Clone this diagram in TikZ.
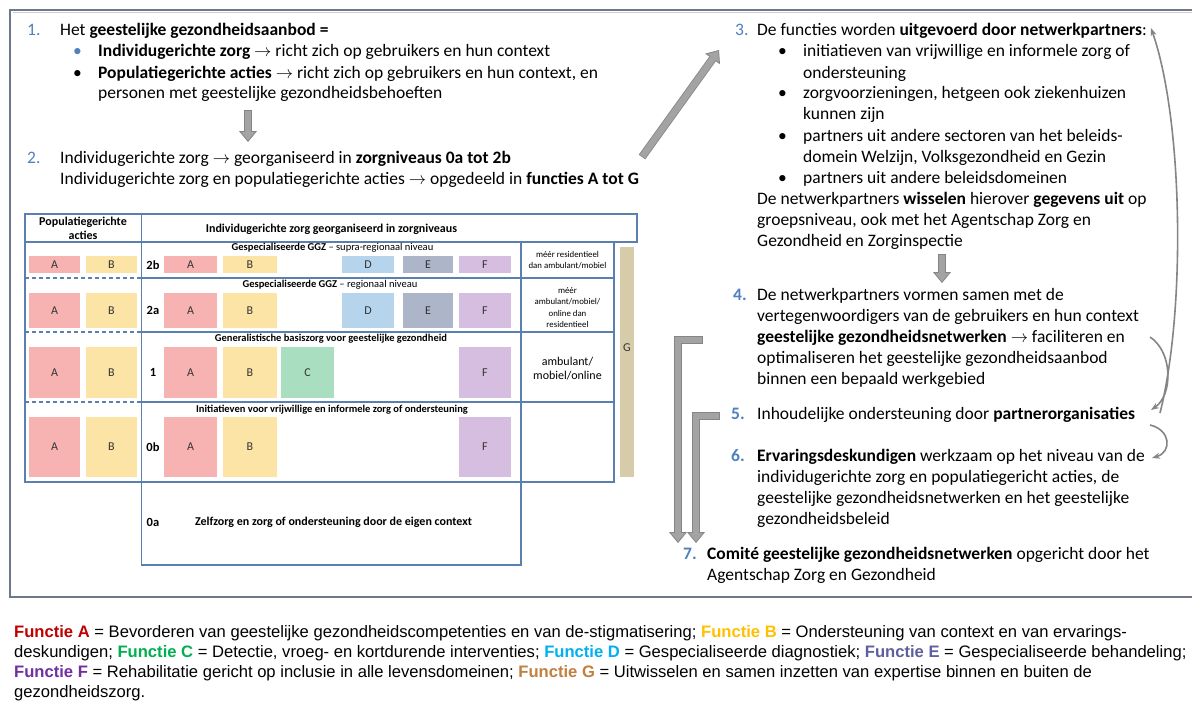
\documentclass[tikz,border=0pt]{standalone}
\usepackage{fontspec}
\setmainfont{Carlito}
\newfontfamily\legendfont{Liberation Sans}
\usetikzlibrary{arrows.meta}
\definecolor{numblue}{HTML}{4F81BD}
\definecolor{tabline}{HTML}{5B7FAF}
\definecolor{fA}{HTML}{F7B2B2}
\definecolor{fB}{HTML}{FCE3A6}
\definecolor{fC}{HTML}{A9DFC0}
\definecolor{fD}{HTML}{B6D5EC}
\definecolor{fE}{HTML}{ADB5C9}
\definecolor{fF}{HTML}{D5BEE0}
\definecolor{fG}{HTML}{D7CCA9}
\definecolor{arrowfill}{HTML}{A3A3A3}
\definecolor{arrowedge}{HTML}{858585}
\definecolor{framecol}{HTML}{6E7886}
\definecolor{legA}{HTML}{C00000}
\definecolor{legB}{HTML}{FFC000}
\definecolor{legC}{HTML}{00B050}
\definecolor{legD}{HTML}{00B0F0}
\definecolor{legE}{HTML}{5F5F9F}
\definecolor{legF}{HTML}{7030A0}
\definecolor{legG}{HTML}{C0803E}

\tikzset{
  body/.style={anchor=base west, inner sep=0pt, font=\fontsize{17.5}{21}\selectfont},
  num/.style={body, text=numblue},
  bnum/.style={body, text=numblue, font=\fontsize{17.5}{21}\selectfont\bfseries},
  legend/.style={anchor=base west, inner sep=0pt, font=\legendfont\fontsize{16.6}{20}\selectfont},
  cellbox/.style={inner sep=0pt, draw=none, text=black!80, font=\fontsize{12}{14}\selectfont},
  sub/.style={inner sep=0pt, font=\fontsize{10.5}{12}\selectfont},
  lvl/.style={inner sep=0pt, font=\fontsize{12.5}{14}\selectfont\bfseries},
  desc/.style={inner sep=0pt, align=center, font=\fontsize{8.8}{11.3}\selectfont},
  tab/.style={draw=tabline, line width=1.1pt},
  fatarrow/.style={draw=arrowedge, line width=8pt,
    -{Triangle[width=18pt,length=11pt,line width=0.8pt,fill=arrowfill]},
    postaction={draw=arrowfill, line width=6.4pt, -, shorten >=10pt, shorten <=0.8pt}},
  thinarrow/.style={draw=arrowedge, line width=1.6pt, -{Stealth[length=8pt,width=6pt]}}
}
% coloured function cell: name, x1, y1, x2, y2, colour, letter
\newcommand\fcell[7]{\node[cellbox, fill=#6, minimum width={#4-#2}, minimum height={#5-#3}] (#1) at ({(#2+#4)/2},{(#3+#5)/2}) {#7};}

\begin{document}
\begin{tikzpicture}[x=1pt,y=-1pt]
\useasboundingbox[fill=white] (0,0) rectangle (1192,701);

% outer frame
\draw[framecol, line width=2.2pt] (10,10) rectangle (1200,597);
\draw[black!20, line width=0.8pt] (12.5,12.5) -- (1200,12.5);

% ---------- item 1 ----------
\node[num] (n1) at (27,36) {1.};
\node[body] (t1a) at (60,36) {Het \textbf{geestelijke gezondheidsaanbod =}};
\node[body, text=numblue] (b1a) at (73,57) {•};
\node[body] (t1b) at (98,57) {\textbf{Individugerichte zorg} $\rightarrow$ richt zich op gebruikers en hun context};
\node[body] (b1b) at (73,78) {•};
\node[body] (t1c) at (98,78) {\textbf{Populatiegerichte acties} $\rightarrow$ richt zich op gebruikers en hun context, en};
\node[body] (t1d) at (98,99) {personen met geestelijke gezondheidsbehoeften};

% ---------- item 2 ----------
\node[num] (n2) at (27,163) {2.};
\node[body] (t2a) at (60,163) {Individugerichte zorg $\rightarrow$ georganiseerd in \textbf{zorgniveaus 0a tot 2b}};
\node[body] (t2b) at (60,184) {Individugerichte zorg en populatiegerichte acties $\rightarrow$ opgedeeld in \textbf{functies A tot G}};

% ---------- item 3 ----------
\node[num] (n3) at (735,36) {3.};
\node[body] (t3a) at (757,36) {De functies worden \textbf{uitgevoerd door netwerkpartners}:};
\node[body] (b3a) at (778,57) {•};
\node[body] (t3b) at (803,57) {initiatieven van vrijwillige en informele zorg of};
\node[body] (t3c) at (803,78) {ondersteuning};
\node[body] (b3b) at (778,99) {•};
\node[body] (t3d) at (803,99) {zorgvoorzieningen, hetgeen ook ziekenhuizen};
\node[body] (t3e) at (803,120) {kunnen zijn};
\node[body] (b3c) at (778,141) {•};
\node[body] (t3f) at (803,141) {partners uit andere sectoren van het beleids-};
\node[body] (t3g) at (803,162) {domein Welzijn, Volksgezondheid en Gezin};
\node[body] (b3d) at (778,183) {•};
\node[body] (t3h) at (803,183) {partners uit andere beleidsdomeinen};
\node[body] (t3i) at (757,204) {De netwerkpartners \textbf{wisselen} hierover \textbf{gegevens uit} op};
\node[body] (t3j) at (757,225) {groepsniveau, ook met het Agentschap Zorg en};
\node[body] (t3k) at (757,246) {Gezondheid en Zorginspectie};

% ---------- item 4 ----------
\node[bnum] (n4) at (733,300) {4.};
\node[body] (t4a) at (757,300) {De netwerkpartners vormen samen met de};
\node[body] (t4b) at (757,321) {vertegenwoordigers van de gebruikers en hun context};
\node[body] (t4c) at (757,342) {\textbf{geestelijke gezondheidsnetwerken} $\rightarrow$ faciliteren en};
\node[body] (t4d) at (757,363) {optimaliseren het geestelijke gezondheidsaanbod};
\node[body] (t4e) at (757,384) {binnen een bepaald werkgebied};

% ---------- item 5 ----------
\node[bnum] (n5) at (731,419) {5.};
\node[body] (t5a) at (757,419) {Inhoudelijke ondersteuning door \textbf{partnerorganisaties}};

% ---------- item 6 ----------
\node[bnum] (n6) at (731,461) {6.};
\node[body] (t6a) at (757,461) {\textbf{Ervaringsdeskundigen} werkzaam op het niveau van de};
\node[body] (t6b) at (757,482) {individugerichte zorg en populatiegericht acties, de};
\node[body] (t6c) at (757,503) {geestelijke gezondheidsnetwerken en het geestelijke};
\node[body] (t6d) at (757,524) {gezondheidsbeleid};

% ---------- item 7 ----------
\node[bnum] (n7) at (683,559) {7.};
\node[body] (t7a) at (707,559) {\textbf{Comité geestelijke gezondheidsnetwerken} opgericht door het};
\node[body] (t7b) at (707,580) {Agentschap Zorg en Gezondheid};

% ---------- block arrows ----------
\coordinate (a1s) at (248,110);
\coordinate (a1e) at (248,142);
\draw[fatarrow] (a1s) -- (a1e);
\coordinate (a2s) at (642,157);
\coordinate (a2e) at (719,50);
\draw[fatarrow] (a2s) -- (a2e);
\coordinate (a3s) at (942,254);
\coordinate (a3e) at (942,283);
\draw[fatarrow] (a3s) -- (a3e);
\coordinate (a4s) at (703,340);
\coordinate (a4c) at (678,340);
\coordinate (a4e) at (678,543);
\draw[fatarrow] (a4s) -- (a4c) -- (a4e);
\coordinate (a5s) at (720,416);
\coordinate (a5c) at (696,416);
\coordinate (a5e) at (696,543);
\draw[fatarrow] (a5s) -- (a5c) -- (a5e);

% ---------- curved feedback arrows ----------
\coordinate (c1s) at (1160,413);
\coordinate (c1e) at (1151,28);
\draw[thinarrow] (c1s) .. controls (1186,310) and (1183,120) .. (c1e);
\coordinate (c2s) at (1150,337);
\coordinate (c2e) at (1151,410);
\draw[thinarrow] (c2s) .. controls (1173,352) and (1173,395) .. (c2e);
\coordinate (c3s) at (1150,425);
\coordinate (c3e) at (1152,458);
\draw[thinarrow] (c3s) .. controls (1171,430) and (1172,452) .. (c3e);

% ---------- table: coloured cells ----------
% population column
\fcell{pA2b}{29}{256}{80}{273}{fA}{A}
\fcell{pB2b}{86}{256}{137}{273}{fB}{B}
\fcell{pA2a}{29}{293}{80}{328}{fA}{A}
\fcell{pB2a}{86}{293}{137}{328}{fB}{B}
\fcell{pA1}{29}{347}{80}{398}{fA}{A}
\fcell{pB1}{86}{347}{137}{398}{fB}{B}
\fcell{pA0b}{29}{417}{80}{477}{fA}{A}
\fcell{pB0b}{86}{417}{137}{477}{fB}{B}
% level 2b
\fcell{iA2b}{164}{256}{217}{273}{fA}{A}
\fcell{iB2b}{223}{256}{277}{273}{fB}{B}
\fcell{iD2b}{342}{256}{394}{273}{fD}{D}
\fcell{iE2b}{403}{256}{453}{273}{fE}{E}
\fcell{iF2b}{459}{256}{511}{273}{fF}{F}
% level 2a
\fcell{iA2a}{164}{293}{217}{328}{fA}{A}
\fcell{iB2a}{223}{293}{277}{328}{fB}{B}
\fcell{iD2a}{342}{293}{394}{328}{fD}{D}
\fcell{iE2a}{403}{293}{453}{328}{fE}{E}
\fcell{iF2a}{459}{293}{511}{328}{fF}{F}
% level 1
\fcell{iA1}{164}{347}{217}{398}{fA}{A}
\fcell{iB1}{223}{347}{277}{398}{fB}{B}
\fcell{iC1}{281}{347}{334}{398}{fC}{C}
\fcell{iF1}{459}{347}{511}{398}{fF}{F}
% level 0b
\fcell{iA0b}{164}{417}{217}{477}{fA}{A}
\fcell{iB0b}{223}{417}{277}{477}{fB}{B}
\fcell{iF0b}{459}{417}{511}{477}{fF}{F}
% function G bar
\fcell{gbar}{620}{247}{634}{477}{fG}{}
\node[cellbox] (glab) at (627,348) {G};

% ---------- table: grid ----------
\draw[tab] (25,214) rectangle (637,242);
\draw[tab] (141.5,214) -- (141.5,565) -- (521,565) -- (521,242);
\draw[tab] (25,242) -- (25,482) -- (614,482) -- (614,242);
\draw[tab] (141.5,278) -- (614,278);
\draw[tab] (141.5,332) -- (614,332);
\draw[tab] (141.5,402) -- (614,402);
\draw[tab, dashed, dash pattern=on 4pt off 3pt] (25,278) -- (141.5,278);
\draw[tab, dashed, dash pattern=on 4pt off 3pt] (25,332) -- (141.5,332);
\draw[tab, dashed, dash pattern=on 4pt off 3pt] (25,402) -- (141.5,402);

% ---------- table: headings ----------
\node[inner sep=0pt, align=center, font=\fontsize{12}{13.5}\selectfont\bfseries] (hpop) at (83,228.5) {Populatiegerichte\\acties};
\node[inner sep=0pt, font=\fontsize{12}{14}\selectfont\bfseries] (hind) at (331.5,229) {Individugerichte zorg georganiseerd in zorgniveaus};
\node[sub] (s2b) at (332.5,248) {\textbf{Gespecialiseerde GGZ} – supra-regionaal niveau};
\node[sub] (s2a) at (330,285) {\textbf{Gespecialiseerde GGZ} – regionaal niveau};
\node[sub, font=\fontsize{10.5}{12}\selectfont\bfseries] (s1) at (331,339) {Generalistische basiszorg voor geestelijke gezondheid};
\node[sub, font=\fontsize{10.5}{12}\selectfont\bfseries] (s0b) at (332,410) {Initiatieven voor vrijwillige en informele zorg of ondersteuning};
\node[inner sep=0pt, font=\fontsize{12}{14}\selectfont\bfseries] (s0a) at (333.5,522) {Zelfzorg en zorg of ondersteuning door de eigen context};

\node[lvl] (l2b) at (153,265) {2b};
\node[lvl] (l2a) at (153,310) {2a};
\node[lvl] (l1) at (153,372) {1};
\node[lvl] (l0b) at (153,447) {0b};
\node[lvl] (l0a) at (153,522) {0a};

\node[desc] (d2b) at (567.5,260) {méér residentieel\\dan ambulant/mobiel};
\node[desc] (d2a) at (567.5,307.5) {méér\\ambulant/mobiel/\\online dan\\residentieel};
\node[desc, font=\fontsize{12}{14.5}\selectfont] (d1) at (567.5,368.5) {ambulant/\\mobiel/online};

% ---------- legend ----------
\node[legend] (g1) at (14,637.5) {{\bfseries\color{legA}Functie A} = Bevorderen van geestelijke gezondheidscompetenties en van de-stigmatisering; {\bfseries\color{legB}Functie B} = Ondersteuning van context en van ervarings-};
\node[legend] (g2) at (14,657.5) {deskundigen; {\bfseries\color{legC}Functie C} = Detectie, vroeg- en kortdurende interventies; {\bfseries\color{legD}Functie D} = Gespecialiseerde diagnostiek; {\bfseries\color{legE}Functie E} = Gespecialiseerde behandeling;};
\node[legend] (g3) at (14,677.5) {{\bfseries\color{legF}Functie F} = Rehabilitatie gericht op inclusie in alle levensdomeinen; {\bfseries\color{legG}Functie G} = Uitwisselen en samen inzetten van expertise binnen en buiten de};
\node[legend] (g4) at (14,697.5) {gezondheidszorg.};
\end{tikzpicture}
\end{document}
